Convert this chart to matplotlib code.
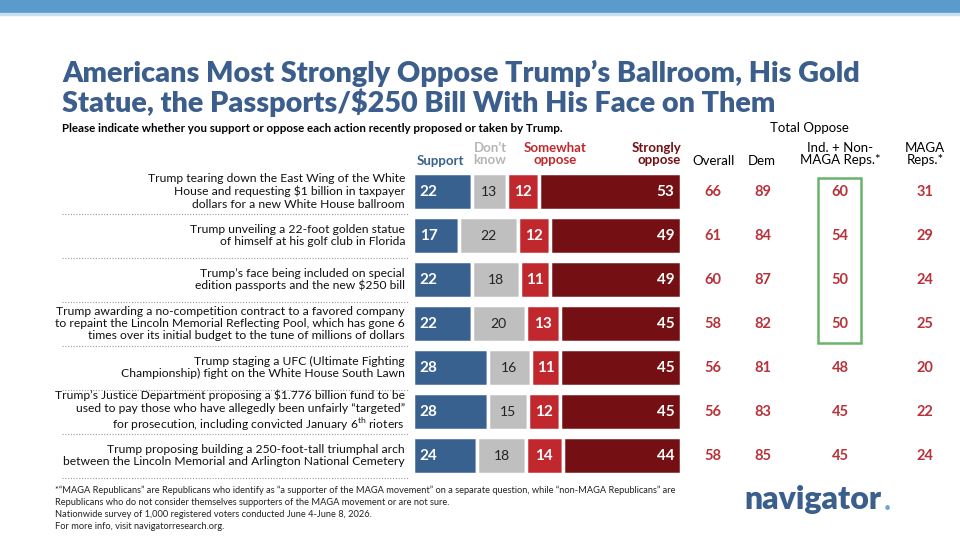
import matplotlib
matplotlib.use("Agg")
import matplotlib.pyplot as plt
from matplotlib.patches import Rectangle
from matplotlib.lines import Line2D
from matplotlib.transforms import blended_transform_factory

# data
items = [
    "Trump tearing down the East Wing of the White\nHouse and requesting \\$1 billion in taxpayer\ndollars for a new White House ballroom",
    "Trump unveiling a 22-foot golden statue\nof himself at his golf club in Florida",
    "Trump\u2019s face being included on special\nedition passports and the new \\$250 bill",
    "Trump awarding a no-competition contract to a favored company\nto repaint the Lincoln Memorial Reflecting Pool, which has gone 6\ntimes over its initial budget to the tune of millions of dollars",
    "Trump staging a UFC (Ultimate Fighting\nChampionship) fight on the White House South Lawn",
    "Trump\u2019s Justice Department proposing a \\$1.776 billion fund to be\nused to pay those who have allegedly been unfairly \u201ctargeted\u201d\nfor prosecution, including convicted January 6$^{\\mathrm{th}}$ rioters",
    "Trump proposing building a 250-foot-tall triumphal arch\nbetween the Lincoln Memorial and Arlington National Cemetery",
]
support = [22, 17, 22, 22, 28, 28, 24]
dont_know = [13, 22, 18, 20, 16, 15, 18]
somewhat = [12, 12, 11, 13, 11, 12, 14]
strongly = [53, 49, 49, 45, 45, 45, 44]

overall = [66, 61, 60, 58, 56, 56, 58]
dem = [89, 84, 87, 82, 81, 83, 85]
ind_nonmaga = [60, 54, 50, 50, 48, 45, 45]
maga = [31, 29, 24, 25, 20, 22, 24]

BLUE = "#386190"
GRAY = "#bfbfbf"
RED = "#c0282e"
DARK = "#741014"
TITLE = "#3b5e8c"
VALRED = "#b8323a"

plt.rcParams["font.family"] = ["Lato", "DejaVu Sans"]
plt.rcParams["mathtext.fontset"] = "custom"
plt.rcParams["mathtext.rm"] = "Lato"

W, H = 960, 540
fig = plt.figure(figsize=(9.6, 5.4), dpi=100)


def fx(x):
    return x / W


def fy(y):
    return 1 - y / H


# top band
fig.patches.append(Rectangle((0, fy(13)), 1, 13 / H, transform=fig.transFigure,
                             color="#5a9bcc", zorder=0))
fig.patches.append(Rectangle((0, fy(15)), 1, 2 / H, transform=fig.transFigure,
                             color="#c9dff0", zorder=0))

# title
fig.text(fx(62), fy(73), "Americans Most Strongly Oppose Trump\u2019s Ballroom, His Gold",
         fontweight="heavy", fontsize=20.7, color=TITLE, va="center")
fig.text(fx(62), fy(103), "Statue, the Passports/$250 Bill With His Face on Them",
         fontweight="heavy", fontsize=20.7, color=TITLE, va="center")
fig.text(fx(62), fy(128), "Please indicate whether you support or oppose each action recently proposed or taken by Trump.",
         fontweight="bold", fontsize=8.3, va="center")

# bar axes
n = len(items)
top, bottom = 191.5 - 22, 191.5 + (n - 1) * 44 + 22
ax = fig.add_axes([fx(413), fy(bottom), 268 / W, (bottom - top) / H])
ax.set_xlim(0, 100)
ax.set_ylim(n - 0.5, -0.5)
ax.axis("off")

rows = list(range(n))
left = [0] * n
series = [(support, BLUE), (dont_know, GRAY), (somewhat, RED), (strongly, DARK)]
for vals, col in series:
    ax.barh(rows, vals, left=left, height=0.86, color=col, edgecolor="white", linewidth=2.5)
    for i, v in enumerate(vals):
        if col == BLUE:
            ax.text(left[i] + 2.5, i, str(v), color="white", fontweight="bold", fontsize=11, va="center")
        elif col == GRAY:
            ax.text(left[i] + v / 2, i, str(v), color="#222222", fontsize=10, va="center", ha="center")
        elif col == RED:
            ax.text(left[i] + v / 2, i, str(v), color="white", fontweight="bold", fontsize=11, va="center", ha="center")
        else:
            ax.text(left[i] + v - 2.5, i, str(v), color="white", fontweight="bold", fontsize=11, va="center", ha="right")
    left = [l + v for l, v in zip(left, vals)]

# row labels and dotted separators
tr = blended_transform_factory(fig.transFigure, ax.transData)
for i, lab in enumerate(items):
    ax.text(fx(405), i, lab, transform=tr, ha="right", va="center", fontsize=8.7,
            linespacing=1.15, color="#111111")
    ax.add_line(Line2D([fx(62), fx(408)], [i + 0.5, i + 0.5], transform=tr,
                       color="#999999", linestyle=(0, (1, 1.5)), linewidth=0.8, clip_on=False))

# column headers over bars
hdr = dict(fontweight="bold", fontsize=9.5, va="center", linespacing=1.05)
fig.text(fx(440), fy(161), "Support", color=BLUE, ha="center", **hdr)
fig.text(fx(490), fy(154), "Don\u2019t\nknow", color="#b5b5b5", ha="center", **hdr)
fig.text(fx(555), fy(154), "Somewhat\noppose", color=RED, ha="center", **hdr)
fig.text(fx(681), fy(154), "Strongly\noppose", color=DARK, ha="right", **hdr)

# right-hand columns
cols = [(713, overall), (763, dem), (840, ind_nonmaga), (925, maga)]
for x, vals in cols:
    for i, v in enumerate(vals):
        ax.text(fx(x), i, str(v), transform=tr, ha="center", va="center",
                fontsize=10.5, fontweight="bold", color=VALRED)

rh = dict(fontsize=9.5, va="center", ha="center", linespacing=1.05)
fig.text(fx(809), fy(128), "Total Oppose", **rh)
fig.text(fx(714), fy(161), "Overall", **rh)
fig.text(fx(762), fy(161), "Dem", **rh)
fig.text(fx(840), fy(154), "Ind. + Non-\nMAGA Reps.*", **rh)
fig.text(fx(925), fy(154), "MAGA\nReps.*", **rh)

# green highlight box
fig.patches.append(Rectangle((fx(818), fy(343)), 43 / W, (343 - 178) / H,
                             transform=fig.transFigure, fill=False,
                             edgecolor="#6ab46a", linewidth=1.8, zorder=5))

# footnotes
notes = [
    "*\u201cMAGA Republicans\u201d are Republicans who identify as \u201ca supporter of the MAGA movement\u201d on a separate question, while \u201cnon-MAGA Republicans\u201d are",
    "Republicans who do not consider themselves supporters of the MAGA movement or are not sure.",
    "Nationwide survey of 1,000 registered voters conducted June 4-June 8, 2026.",
    "For more info, visit navigatorresearch.org.",
]
for k, line in enumerate(notes):
    fig.text(fx(55), fy(490 + k * 12.3), line, fontsize=6.7, va="center", color="#222222")

# logo
fig.text(fx(744), fy(500), "navigator", fontsize=23, fontweight="heavy", color="#3a5f8c", va="center")
fig.text(fx(884), fy(508), "\u2022", fontsize=9, color="#6aa8d8", va="center")

fig.savefig("out.png", dpi=100)
